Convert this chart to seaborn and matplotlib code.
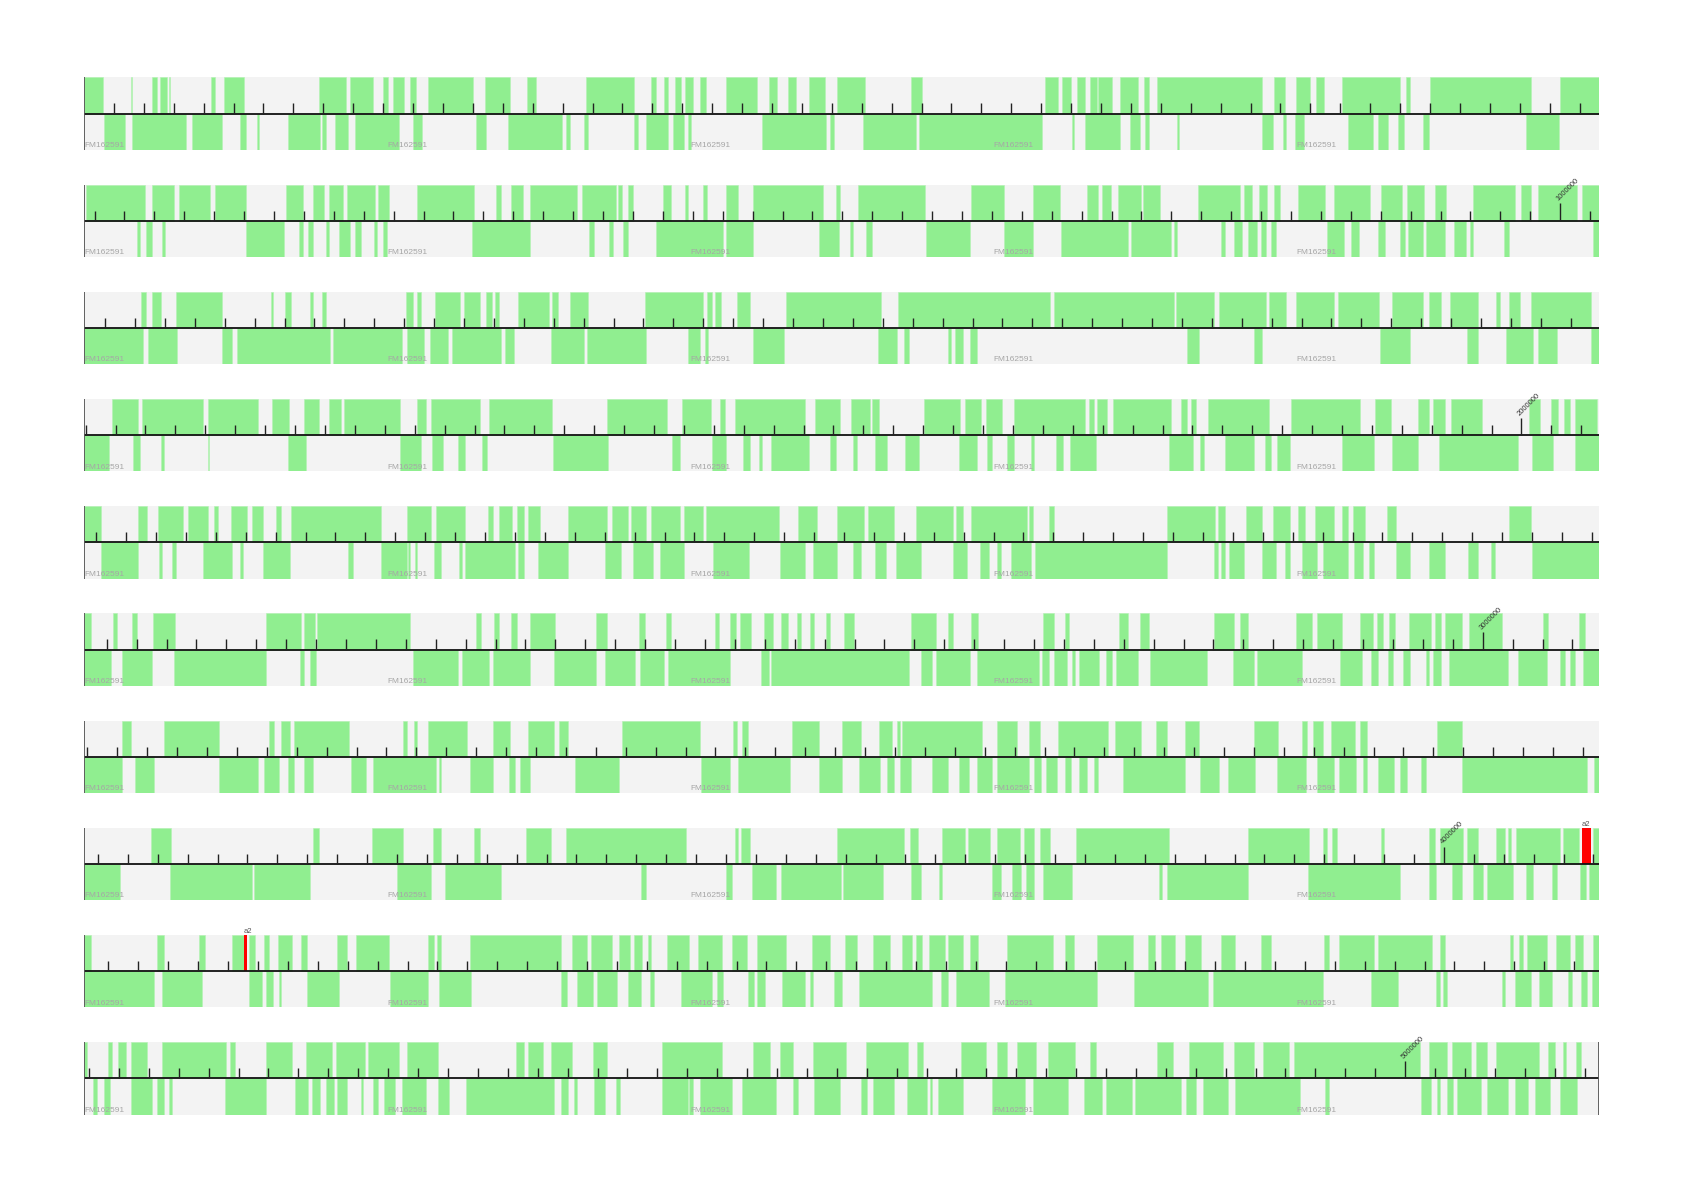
import matplotlib
matplotlib.use("Agg")
import matplotlib.pyplot as plt
import seaborn as sns

genome_id = "FM162591"
genome_length = 5064808
n_rows = 10
tick_step = 10000
label_step = 1000000

# gene blocks on the forward strand, one list per row, kb from the row start
fwd_blocks = [
    [(0, 6.5), (15.7, 16.2), (22.6, 24.4), (25.5, 27.6), (28.4, 28.9), (42.4, 43.8), (46.7, 53.5), (78.6, 87.6),
     (89, 96.6), (99.8, 101.6), (103.4, 107), (109, 111), (115, 130), (134, 142.5), (148, 151), (167.7, 183.8),
     (189.6, 191.3), (193.9, 195.3), (197.5, 199.6), (201, 203.6), (206, 208), (214.7, 225), (229, 231.6),
     (235.5, 238), (242.3, 247.7), (251.7, 261), (276.4, 280), (321.3, 325.6), (327, 330), (332, 334.6),
     (336.4, 338.5), (339, 343.6), (346.4, 352.5), (354.3, 356), (358.6, 393.8), (397.8, 401.4), (405.3, 410),
     (412, 414.6), (420.7, 439.8), (442, 443.4), (450, 483.6), (493.3, 506.5)],
    [(0.7, 20.5), (22.6, 30.2), (31.6, 42), (43.8, 54.2), (67.5, 73.2), (76.5, 80.4), (81.9, 86.5), (88, 97.3),
     (98.4, 102), (111.3, 130.3), (137.9, 139.3), (142.9, 146.8), (149, 164.8), (166.6, 177.7), (178.4, 179.9),
     (181.7, 183.4), (193.5, 196.4), (201, 202), (207.1, 208.2), (214.7, 218.6), (223.7, 247), (251.3, 252.7),
     (258.8, 281), (296.5, 307.7), (317.4, 326.3), (335.3, 339), (340.3, 343.2), (345.7, 353.3), (354, 359.7),
     (372.3, 386.3), (387.7, 390.6), (392.7, 395.6), (397.8, 400), (406, 415), (417.9, 430), (433.7, 440.5),
     (442.3, 448), (451.6, 455.2), (464.5, 478.5), (480.3, 483.6), (486, 499), (500.8, 506.5)],
    [(19, 20.8), (22.6, 25.8), (30.9, 46), (62.5, 63.2), (67.1, 69.3), (75.4, 76.5), (79.7, 80.8), (107.7, 109.9),
     (111.3, 112.7), (117.4, 125.7), (127, 132.5), (134.3, 136.4), (137.5, 138.6), (145, 155.4), (156.5, 158.3),
     (162.6, 168.4), (187.4, 207.1), (208.2, 210), (211, 213), (218.3, 222.6), (234.8, 266.4), (272.1, 323.1),
     (324.2, 364.4), (365.1, 377.7), (379.5, 395), (396.3, 401.7), (405.3, 417.9), (419.3, 433), (437.3, 447.7),
     (449.8, 453.8), (456.6, 466), (472.1, 473.5), (476.4, 480), (483.6, 503.7)],
    [(9.3, 18), (19.4, 39.8), (41.3, 58.2), (62.8, 68.6), (73.6, 78.6), (81.9, 85.8), (86.9, 105.5), (111.3, 114.2),
     (116, 132.5), (135.3, 156.5), (174.8, 195), (200, 209.7), (212.5, 214.3), (217.6, 241.2), (244.5, 252.7),
     (256.3, 262.8), (263.5, 265.7), (280.7, 293), (294.4, 299.8), (301.6, 307), (310.9, 334.6), (336, 337.8),
     (338.5, 342.1), (343.9, 363.3), (366.9, 368.7), (370.1, 371.6), (375.9, 396.3), (403.5, 426.5),
     (431.5, 436.9), (445.9, 449.5), (450.9, 454.9), (457, 467.4), (483.2, 486.8), (490.4, 492.9),
     (494.7, 496.9), (498.3, 505.8)],
    [(0, 5.7), (18, 21.2), (24.8, 33), (34.8, 41.3), (43.4, 44.9), (49.2, 54.6), (56, 59.9), (64.3, 66),
     (69.3, 99.4), (108, 116), (117.8, 127.4), (135, 136.8), (138.6, 143.2), (144.7, 147.2), (148.6, 152.6),
     (161.9, 174.8), (176.6, 181.7), (183, 188), (189.6, 199.2), (200.7, 207.1), (207.9, 232.3), (238.7, 245.2),
     (251.7, 260.6), (262, 270.7), (278.2, 290.4), (291.5, 293.7), (296.5, 315.2), (315.9, 317.4),
     (322.7, 324.2), (362.2, 378), (379.1, 381.6), (388.4, 393.8), (397.4, 403.2), (405.7, 408.2),
     (411.4, 417.9), (420.7, 422.5), (424.3, 428.3), (435.5, 438.7), (476.4, 483.6)],
    [(0, 2.5), (9.7, 11.1), (16.2, 17.6), (23, 30.5), (61, 72.5), (73.6, 77.2), (77.9, 109.1), (131, 132.8),
     (137.1, 138.6), (142.9, 144.7), (149, 157.6), (171.2, 174.8), (185.6, 187.4), (194.6, 196.4), (211, 212.2),
     (215.8, 217.9), (219.3, 222.9), (227.2, 230.5), (233, 235.5), (238.4, 239.8), (242.7, 244.1), (248, 249.5),
     (254.2, 257.4), (276.4, 284.7), (289, 290.4), (296.5, 299), (320.6, 324.2), (327.8, 329.2), (346.1, 349),
     (352.9, 356.1), (377.7, 384.5), (386.3, 389.2), (405.3, 410.7), (412.1, 420.7), (426.5, 430.8),
     (432.2, 434.4), (436.2, 438.3), (443, 450.2), (451.6, 453.8), (455, 460.6), (463.1, 473.9),
     (487.9, 489.3), (499.7, 501.9)],
    [(12.6, 15.8), (26.6, 45.2), (61.7, 63.5), (66, 68.9), (70.3, 88.7), (106.6, 108), (110.3, 111.3),
     (114.9, 128.2), (136.8, 142.5), (148.6, 157.2), (158.7, 161.9), (179.9, 206.1), (217, 218.3), (220, 221.9),
     (236.6, 245.6), (253.5, 259.9), (265.7, 270), (271.8, 272.8), (273.6, 300.1), (305.2, 312), (315.9, 319.5),
     (325.6, 342.5), (344.6, 353.3), (358.3, 362.2), (368, 372.6), (391.3, 399.2), (407.1, 408.9), (411, 414.3),
     (416.8, 425), (426.5, 429), (452.3, 460.6)],
    [(22.3, 29.1), (76.5, 78.6), (96.2, 106.6), (116.7, 119.5), (130.3, 132.5), (147.9, 156.2), (161.2, 201.4),
     (217.6, 218.6), (219.7, 222.6), (251.7, 274.3), (276.1, 278.9), (286.8, 294.4), (295.5, 303), (305.2, 313),
     (314.2, 317.7), (319.5, 323.1), (331.7, 362.6), (389.2, 409.6), (414.3, 415.7), (417.2, 419),
     (433.7, 434.7), (449.8, 451.6), (453.4, 461), (462.4, 466), (472.1, 475), (476, 477.1), (478.9, 493.3),
     (494.3, 499.7), (504.4, 506.5)],
    [(0, 2.2), (24.4, 26.9), (38.4, 40.6), (49.5, 53.5), (55.3, 57.1), (60.3, 61.7), (65, 69.6), (72.5, 74.7),
     (84.7, 88), (90.8, 102), (114.9, 117), (118.1, 119.2), (128.9, 159.4), (163.3, 168), (169.4, 176.6),
     (178.8, 182.4), (183.8, 186.6), (188.5, 189.6), (194.9, 202.1), (205.3, 213.2), (216.5, 221.5),
     (225.1, 234.8), (243.4, 249.5), (254.5, 258.5), (263.9, 269.6), (273.6, 276.8), (278.2, 280),
     (282.5, 287.9), (289, 293.7), (296.2, 299), (308.7, 323.8), (327.8, 331), (338.5, 350.7), (355.8, 357.9),
     (360, 364.7), (368, 373.4), (380.2, 384.8), (393.5, 396.7), (414.6, 416.1), (419.7, 431.2), (432.6, 450.5),
     (453.4, 454.9), (476.8, 477.8), (479.6, 481.1), (482.5, 489), (492.2, 496.9), (498.6, 501.2),
     (504.4, 506.5)],
    [(0, 1.1), (7.9, 9.3), (11.5, 14), (15.8, 21.2), (26.2, 47.4), (48.8, 50.6), (60.7, 69.6), (74.3, 82.9),
     (84.4, 94.1), (94.8, 105.2), (108, 118.5), (144.3, 147.2), (148.6, 153.3), (156.2, 163), (170.2, 174.8),
     (193.1, 213.2), (223.7, 229.4), (232.6, 236.9), (243.8, 254.9), (261.4, 275.4), (278.6, 280.4),
     (293.3, 301.6), (305.2, 308.7), (311.9, 318.1), (322.4, 331.4), (336.4, 338.2), (358.6, 364),
     (369.4, 380.9), (384.5, 391), (394.2, 402.8), (404.6, 446.6), (449.8, 455.6), (457.4, 463.8),
     (465.2, 469.2), (472.1, 486.4), (489.3, 491.8), (494.3, 495.4), (498.9, 500.4)],
]

# gene blocks on the reverse strand, one list per row, kb from the row start
rev_blocks = [
    [(6.8, 13.6), (16, 34), (36, 46), (52, 54), (57.8, 58.5), (68.2, 79), (79.7, 81), (84, 88.3), (90.5, 105.2),
     (110, 113), (131, 134.3), (141.8, 159.8), (161, 162.6), (167.3, 168.4), (183.8, 185.2), (187.8, 195.3),
     (197, 200.7), (201.8, 203), (226.5, 248), (249.5, 250.6), (260.3, 278.2), (279, 320.2), (330.3, 331),
     (334.6, 346.4), (349.7, 353), (354.7, 356), (365.5, 366.2), (393.8, 397.4), (401, 401.7), (405, 407.8),
     (422.5, 430.8), (432.6, 435.8), (439.4, 441.2), (447.7, 449.8), (482, 493)],
    [(17.6, 18.7), (20.8, 22.6), (26.2, 27), (54.2, 66.8), (71.8, 73.2), (75, 76.5), (80.8, 81.9), (85.4, 89),
     (90.5, 92.6), (97, 98), (99.8, 101.2), (129.6, 149), (168.7, 170.5), (175.6, 177), (180.2, 181.7),
     (191.3, 213.6), (214.7, 223.7), (245.6, 252.4), (256, 257), (261.4, 263.5), (281.5, 296.2), (307.7, 317.4),
     (326.7, 349), (350, 363.3), (364.4, 365.5), (380.2, 381.6), (384.5, 387), (389.2, 392), (393.5, 395),
     (396.7, 398.5), (415.4, 421.1), (423.6, 426.1), (432.6, 435.1), (439.8, 441.6), (442.6, 447.7),
     (448.8, 454.9), (458, 462), (463.5, 464.5), (474.6, 476.4), (504.4, 506.5)],
    [(0, 19.7), (21.5, 31.2), (46.3, 49.5), (51, 82.2), (83.3, 106.3), (108, 113.8), (115.6, 121.7),
     (123.1, 139.3), (140.7, 143.6), (156.2, 167.3), (168, 187.8), (201.8, 206), (207.5, 208.6), (223.7, 234),
     (265.6, 271.8), (274.3, 275.7), (289, 289.7), (291.1, 294), (296.2, 298.7), (368.7, 372.6), (391, 393.8),
     (433.3, 443.4), (462.4, 466), (475.3, 484.3), (486.1, 492.5), (503.7, 506.5)],
    [(0, 8.3), (16.5, 18.7), (25.8, 26.6), (41.3, 41.8), (68.2, 74.3), (105.5, 112.7), (116.3, 119.9),
     (124.9, 127.4), (133.2, 134.6), (156.9, 175.2), (196.7, 199.2), (210, 214.7), (220.4, 222.6),
     (225.5, 226.5), (229.8, 242.3), (249.5, 251.3), (257, 258.5), (264.6, 268.5), (274.6, 279.3),
     (292.6, 298.7), (301.9, 303.4), (308.7, 310.9), (316.6, 317.7), (324.9, 327.4), (329.6, 338.2),
     (362.6, 370.8), (373, 374.4), (381.6, 391), (394.9, 396.7), (398.8, 403.2), (420.7, 431.2), (437.3, 445.9),
     (453, 479.3), (484, 491.1), (498.6, 506.5)],
    [(5.7, 18), (25.1, 26.2), (29.4, 30.9), (39.8, 49.5), (52, 53.1), (60, 68.9), (88.3, 89.8), (99.4, 108),
     (108.4, 109.1), (110.6, 111.3), (117, 119.2), (125.3, 126.4), (127.4, 144), (145, 147.2), (151.9, 161.9),
     (174.1, 179.5), (183.4, 190.3), (192.4, 200.7), (210.4, 222.2), (232.6, 240.9), (243.8, 251.7),
     (257, 259.6), (264.6, 268.2), (271.4, 279.7), (290.4, 295.1), (299.4, 302.6), (305.2, 306.6),
     (309.8, 316.6), (318, 362.2), (377.7, 379.1), (380.2, 381.6), (382.7, 387.7), (393.8, 398.5),
     (401.4, 403.2), (407.1, 412.1), (414.3, 422.5), (424.7, 427.6), (429.7, 431.2), (438.7, 443.4),
     (449.5, 454.9), (462.8, 466), (470.3, 471.7), (484, 506.5)],
    [(0, 9), (12.6, 22.6), (30.2, 60.7), (72.2, 73.6), (75.4, 77.5), (109.9, 124.9), (126.4, 135.3),
     (136.8, 149), (157.2, 171.2), (174.1, 184.2), (186, 193.9), (195.3, 216.1), (226.2, 229), (229.8, 275.7),
     (279.7, 283.6), (284.7, 296.2), (298.7, 319.2), (320.2, 322.7), (324.2, 328.5), (330.3, 331.4),
     (332.8, 339.3), (341.8, 343.6), (345, 352.5), (356.5, 375.5), (384.2, 391.3), (392, 407.1), (420, 427.2),
     (430.4, 432.6), (435.8, 437.6), (440.9, 443.4), (448.8, 449.8), (450.9, 453.8), (456.3, 476),
     (479.3, 489), (493.3, 495), (496.9, 498.3), (501.2, 506.5)],
    [(0, 12.6), (16.9, 23.3), (45.2, 58.2), (60.3, 65.3), (68.2, 70.3), (73.6, 76.5), (89.4, 94.4),
     (96.6, 117.8), (118.8, 119.5), (128.9, 136.8), (142.2, 144), (145.8, 149), (164.1, 178.8), (206.4, 216.1),
     (218.6, 235.9), (245.6, 253.5), (259.2, 266), (268.5, 270.7), (272.8, 276.4), (283.6, 289), (292.6, 295.8),
     (298.7, 303.7), (305.2, 315.9), (317.7, 319.9), (321.7, 325.3), (327.8, 329.9), (332.8, 335.3),
     (337.5, 338.9), (347.2, 368), (373, 379.5), (382.3, 391.6), (398.8, 408.5), (412.1, 417.9),
     (419.7, 425.4), (427.6, 429), (432.6, 438), (440.1, 442.3), (447, 448.8), (460.6, 502.6), (504.8, 506.5)],
    [(0, 12.2), (28.7, 56), (56.7, 75.4), (104.8, 116), (120.6, 139.3), (186.3, 187.8), (214.7, 216.5),
     (223.3, 231.2), (233, 253.1), (253.8, 267.1), (276.4, 279.7), (285.8, 286.8), (303.7, 306.6),
     (310.2, 313.4), (314.8, 317.7), (320.6, 330.3), (359.3, 360.4), (362.2, 389.2), (409.2, 440.1),
     (449.8, 452), (457.4, 460.6), (464.5, 467.8), (468.9, 477.8), (482.1, 484.3), (490.8, 492.5),
     (500.1, 502.2), (503.3, 506.5)],
    [(0, 23.3), (26.2, 39.5), (55.3, 59.6), (61, 63.2), (65.3, 66), (74.7, 85.1), (102.3, 114.9), (118.8, 129.3),
     (159.4, 161.6), (164.8, 170.2), (171.6, 178.1), (182, 186.3), (189.2, 190.6), (199.6, 210), (211.7, 213.6),
     (221.9, 224), (225.1, 227.6), (233.4, 240.9), (242.7, 243.8), (250.6, 253.5), (259.2, 283.6), (286.5, 289),
     (291.5, 302.6), (308, 338.5), (351, 375.9), (377.3, 414.3), (430.1, 439.4), (452, 453.4), (454.2, 455.6),
     (473.9, 475), (478.5, 483.6), (486.4, 490.8), (496.1, 497.6), (500.4, 502.6), (504, 506.5)],
    [(2.9, 4.3), (6.8, 8.6), (15.8, 22.6), (24.4, 26.6), (28.4, 29.4), (47, 60.7), (70.7, 75), (76.1, 79),
     (80.8, 83.6), (84.7, 88), (92.6, 93.3), (96.6, 98.4), (100.2, 104.1), (106.3, 114.2), (118.5, 122.1),
     (127.8, 157.2), (159.4, 161.9), (163.7, 164.8), (170.5, 174.1), (177.7, 179.1), (193.1, 201.8),
     (202.1, 203.6), (206.1, 216.8), (220, 231.2), (236.9, 238.7), (244.1, 252.7), (259.6, 261.7),
     (263.9, 270.7), (275, 281.8), (282.9, 283.6), (285.4, 294), (303.7, 314.5), (317.4, 328.8), (334.2, 340.3),
     (341.8, 350.4), (351.5, 366.9), (368.3, 371.6), (374, 382.3), (384.8, 406.4), (415, 416.1), (447, 450.2),
     (452.3, 453.4), (455.6, 457.7), (459.1, 467), (468.9, 476), (478.5, 482.8), (485, 490.1), (493.6, 499)],
]

# highlighted features (absolute bp, forward strand)
a2_starts = [4046200, 4105350]
a2_ends = [4049100, 4106450]
a2_names = ["a2", "a2"]

sns.set_style("white")
plt.rcParams["font.family"] = ["Liberation Sans", "DejaVu Sans"]

W, H = 1684, 1191
fig = plt.figure(figsize=(W / 100, H / 100), dpi=100)
row_len = genome_length / n_rows
green = "#90ee90"

for i in range(n_rows):
    top = 77.3 + 107.2 * i
    ax = fig.add_axes([84 / W, 1 - (top + 72.5) / H, 1515 / W, 72.5 / H])
    start = i * row_len
    end = start + row_len
    ax.set_xlim(start, end)
    ax.set_ylim(-1, 1)
    ax.axis("off")

    ax.axhspan(-1, 1, color="#f3f3f3", zorder=0, lw=0)
    fb = [(start + a * 1000, (b - a) * 1000) for a, b in fwd_blocks[i]]
    rb = [(start + a * 1000, (b - a) * 1000) for a, b in rev_blocks[i]]
    ax.broken_barh(fb, (0, 1), facecolor=green, edgecolor="#b4f3b4", lw=0.4, zorder=1)
    ax.broken_barh(rb, (-1, 1), facecolor=green, edgecolor="#b4f3b4", lw=0.4, zorder=1)

    for s, e, name in zip(a2_starts, a2_ends, a2_names):
        if start <= s < end:
            ax.broken_barh([(s, e - s)], (0, 1), facecolor="red", edgecolor="none", zorder=2)
            ax.text(s, 1.0, name, fontsize=5.5, color="#555555", ha="left", va="bottom")

    # axis line, row start bar and ticks
    ax.hlines(0, start, end, color="#111111", lw=1.3, zorder=3)
    ax.vlines(start, -1, 1, color="#555555", lw=1.3, zorder=3)
    if i == n_rows - 1:
        ax.vlines(end, -1, 1, color="#555555", lw=1.3, zorder=3)
    first = int(start // tick_step + 1) * tick_step
    ticks = list(range(first, int(end), tick_step))
    minor = [t for t in ticks if t % label_step != 0]
    major = [t for t in ticks if t % label_step == 0]
    ax.vlines(minor, 0, 0.28, color="#222222", lw=1.0, zorder=3)
    ax.vlines(major, 0, 0.48, color="#222222", lw=1.0, zorder=3)
    for m in major:
        ax.text(m, 0.5, str(m), rotation=45, rotation_mode="anchor", fontsize=5.5,
                color="#333333", ha="left", va="bottom")

    for k in range(5):
        ax.text(start + k * row_len / 5, -0.98, genome_id, fontsize=6, color="#a6a6a6",
                ha="left", va="bottom", zorder=4)

fig.savefig("out.png", dpi=100)
